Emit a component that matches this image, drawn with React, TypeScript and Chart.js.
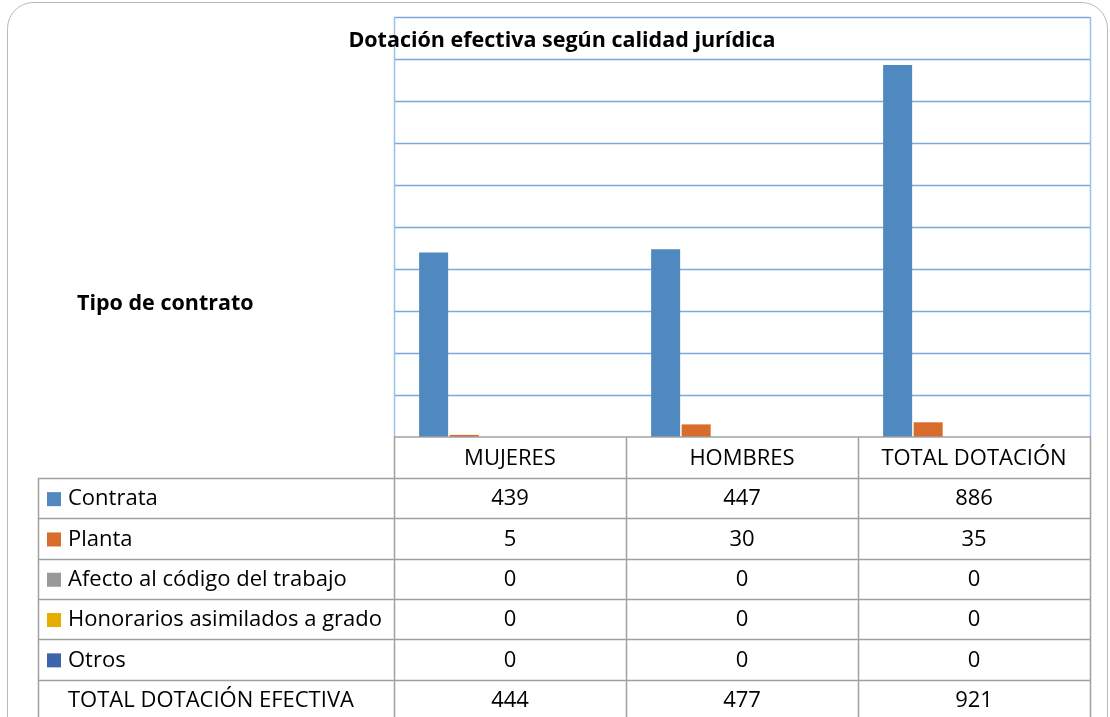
import React, { useEffect, useRef } from "react";
import { Chart, registerables } from "chart.js";
Chart.register(...registerables);

const categories = ["MUJERES", "HOMBRES", "TOTAL DOTACIÓN"];
const seriesNames = [
  "Contrata",
  "Planta",
  "Afecto al código del trabajo",
  "Honorarios asimilados a grado",
  "Otros",
  "TOTAL DOTACIÓN EFECTIVA",
];
const contrata = [439, 447, 886];
const planta = [5, 30, 35];
const afecto = [0, 0, 0];
const honorarios = [0, 0, 0];
const otros = [0, 0, 0];
const totalDotacion = [444, 477, 921];
const seriesValues = [contrata, planta, afecto, honorarios, otros, totalDotacion];
const seriesColors = ["#4f89bf", "#d86d2b", "#999999", "#e5ad00", "#3e64ae", "rgba(0,0,0,0)"];
const showKey = [true, true, true, true, true, false];
const chartTitle = "Dotación efectiva según calidad jurídica";
const axisTitle = "Tipo de contrato";
const yMin = 0;
const yMax = 1000;
const yStep = 100;

const FONT = "'Open Sans', sans-serif";

const overlay = {
  id: "overlay",
  beforeDraw(chart: any) {
    const ctx = chart.ctx;
    const a = chart.chartArea;
    const y = chart.scales.y;
    ctx.save();
    ctx.fillStyle = "#ffffff";
    ctx.fillRect(0, 0, chart.width, chart.height);
    // outer rounded frame
    ctx.strokeStyle = "#b8b8b8";
    ctx.lineWidth = 1;
    ctx.beginPath();
    ctx.roundRect(7.5, 2.5, 1100, 760, 26);
    ctx.stroke();
    // gridlines
    ctx.strokeStyle = "#7ea8dc";
    ctx.lineWidth = 1.5;
    for (let v = yMin + yStep; v <= yMax; v += yStep) {
      const py = Math.round(y.getPixelForValue(v)) + 0.5;
      ctx.beginPath();
      ctx.moveTo(a.left, py);
      ctx.lineTo(a.right, py);
      ctx.stroke();
    }
    // plot area side borders
    ctx.strokeStyle = "#9dc0e8";
    ctx.beginPath();
    ctx.moveTo(a.left + 0.5, a.top);
    ctx.lineTo(a.left + 0.5, a.bottom);
    ctx.moveTo(a.right + 0.5, a.top);
    ctx.lineTo(a.right + 0.5, a.bottom);
    ctx.stroke();
    ctx.restore();
  },
  afterDraw(chart: any) {
    const ctx = chart.ctx;
    const a = chart.chartArea;
    const x = chart.scales.x;
    ctx.save();
    // titles
    ctx.fillStyle = "#000";
    ctx.textBaseline = "middle";
    ctx.font = `bold 21.5px ${FONT}`;
    ctx.textAlign = "center";
    ctx.fillText(chartTitle, 562, 41);
    ctx.textAlign = "left";
    ctx.fillText(axisTitle, 77, 304);

    // data table
    const n = categories.length;
    const colW = (a.right - a.left) / n;
    const colEdges: number[] = [];
    for (let i = 0; i <= n; i++) colEdges.push(a.left + i * colW);
    const headerH = 41;
    const rowH = 40.3;
    const tableLeft = 38;
    const rowsTop = a.bottom + headerH;
    const nRows = seriesNames.length;
    const tableBottom = rowsTop + nRows * rowH;

    ctx.strokeStyle = "#a0a0a0";
    ctx.lineWidth = 1.5;
    ctx.beginPath();
    ctx.moveTo(a.left, a.bottom);
    ctx.lineTo(a.right + 1, a.bottom);
    ctx.stroke();
    for (let i = 0; i <= n; i++) {
      const px = Math.round(colEdges[i]) + 0.5;
      ctx.beginPath();
      ctx.moveTo(px, a.bottom);
      ctx.lineTo(px, tableBottom);
      ctx.stroke();
    }
    ctx.beginPath();
    ctx.moveTo(tableLeft + 0.5, rowsTop);
    ctx.lineTo(tableLeft + 0.5, tableBottom);
    ctx.stroke();
    for (let r = 0; r <= nRows; r++) {
      const py = Math.round(rowsTop + r * rowH) + 0.5;
      ctx.beginPath();
      ctx.moveTo(tableLeft, py);
      ctx.lineTo(a.right + 1, py);
      ctx.stroke();
    }

    ctx.font = `22px ${FONT}`;
    ctx.fillStyle = "#000";
    ctx.textAlign = "center";
    categories.forEach((c, i) => {
      ctx.fillText(c, x.getPixelForValue(i), a.bottom + headerH / 2 + 1);
    });
    seriesNames.forEach((name, r) => {
      const cy = rowsTop + r * rowH + rowH / 2 + 1;
      if (showKey[r]) {
        ctx.fillStyle = seriesColors[r];
        ctx.fillRect(47, cy - 7, 14, 14);
      }
      ctx.fillStyle = "#000";
      ctx.textAlign = "left";
      ctx.fillText(name, 68, cy);
      ctx.textAlign = "center";
      seriesValues[r].forEach((v, i) => {
        ctx.fillText(String(v), x.getPixelForValue(i), cy);
      });
    });
    ctx.restore();
  },
};

export default function App() {
  const ref = useRef<HTMLCanvasElement | null>(null);
  useEffect(() => {
    document.body.style.margin = "0";
    const canvas = ref.current!;
    const chart = new Chart(canvas, {
      type: "bar",
      data: {
        labels: categories,
        datasets: seriesNames.map((name, i) => ({
          label: name,
          data: seriesValues[i],
          backgroundColor: seriesColors[i],
          borderWidth: 0,
          barPercentage: 0.95,
          categoryPercentage: 0.79,
        })),
      },
      options: {
        responsive: false,
        animation: false,
        layout: { padding: { left: 394, right: 20, top: 17, bottom: 280 } },
        plugins: { legend: { display: false }, tooltip: { enabled: false }, title: { display: false } },
        scales: {
          x: { display: false },
          y: { display: false, min: yMin, max: yMax, ticks: { stepSize: yStep } },
        },
      },
      plugins: [overlay],
    });
    return () => chart.destroy();
  }, []);
  return (
    <div style={{ width: 1110, height: 717 }}>
      <canvas ref={ref} width={1110} height={717} style={{ display: "block", width: 1110, height: 717 }} />
    </div>
  );
}
